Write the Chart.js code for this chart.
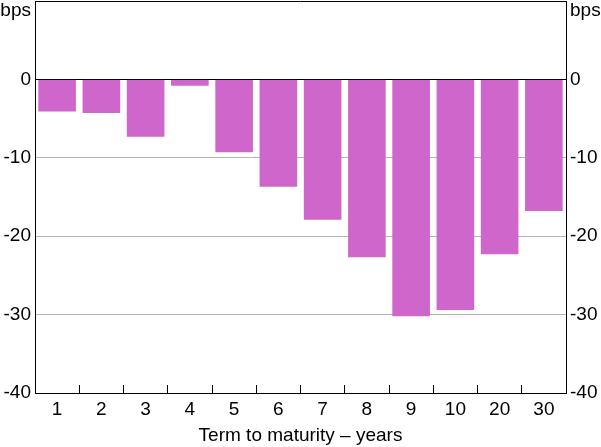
<!DOCTYPE html>
<html>
<head>
<meta charset="utf-8">
<script src="https://cdn.jsdelivr.net/npm/chart.js@4.4.1/dist/chart.umd.min.js"></script>
<style>
  body { margin: 0; background: #fff; }
  #wrap { width: 601px; height: 447px; }
</style>
</head>
<body>
<div id="wrap"><canvas id="chart"></canvas></div>
<script>
// term to maturity (years) and change in yield (bps)
const terms = ["1", "2", "3", "4", "5", "6", "7", "8", "9", "10", "20", "30"];
const changes = [-4.1, -4.3, -7.3, -0.8, -9.3, -13.7, -17.9, -22.7, -30.2, -29.4, -22.3, -16.8];
const yTicks = [-40, -30, -20, -10, 0, 10];

Chart.defaults.font.family = "'Liberation Sans', Arial, sans-serif";
Chart.defaults.font.size = 19;
Chart.defaults.color = "#000";

// top border of the plot and the "bps" unit labels
const frame = {
  id: "frame",
  afterDraw(chart) {
    const { ctx, chartArea } = chart;
    ctx.save();
    ctx.strokeStyle = "#000";
    ctx.lineWidth = 1;
    ctx.beginPath();
    ctx.moveTo(chartArea.left, chartArea.top + 0.5);
    ctx.lineTo(chartArea.right, chartArea.top + 0.5);
    ctx.stroke();
    ctx.fillStyle = "#000";
    ctx.font = "19px 'Liberation Sans', Arial, sans-serif";
    ctx.textBaseline = "alphabetic";
    ctx.textAlign = "right";
    ctx.fillText("bps", chartArea.left - 4, 16);
    ctx.textAlign = "left";
    ctx.fillText("bps", chartArea.right + 4, 16);
    ctx.restore();
  }
};

const yCommon = {
  min: yTicks[0],
  max: yTicks[yTicks.length - 1],
  afterBuildTicks: (scale) => { scale.ticks = yTicks.map(v => ({ value: v })); },
  ticks: {
    padding: 4,
    callback: (v) => (v === 10 ? null : String(v))
  },
  border: { display: true, color: "#000", width: 1 },
  afterFit: (scale) => {
    scale.width = 35;
    scale.paddingTop = 0;
    scale.paddingBottom = 0;
  }
};

new Chart(document.getElementById("chart"), {
  type: "bar",
  data: {
    labels: terms,
    datasets: [{
      data: changes,
      backgroundColor: "#cf66cc",
      categoryPercentage: 1,
      barPercentage: 0.85
    }]
  },
  options: {
    responsive: true,
    maintainAspectRatio: false,
    animation: false,
    layout: { padding: { top: 1 } },
    plugins: {
      legend: { display: false },
      tooltip: { enabled: false }
    },
    scales: {
      x: {
        grid: {
          offset: true,
          drawOnChartArea: false,
          drawTicks: true,
          tickLength: -8,
          color: "#000"
        },
        border: { display: true, color: "#000", width: 1 },
        ticks: { padding: 13 },
        title: {
          display: true,
          text: "Term to maturity – years",
          padding: { top: 0, bottom: 0 }
        },
        afterFit: (scale) => {
          scale.height = 54;
          scale.paddingLeft = 0;
          scale.paddingRight = 0;
        }
      },
      y: Object.assign({}, yCommon, {
        position: "left",
        grid: {
          drawTicks: false,
          color: (c) => (c.tick.value === 0 ? "#000" : (c.tick.value === -40 ? "rgba(0,0,0,0)" : "#b4b4b4"))
        }
      }),
      y2: Object.assign({}, yCommon, {
        position: "right",
        grid: { drawTicks: false, drawOnChartArea: false }
      })
    }
  },
  plugins: [frame]
});
</script>
</body>
</html>
